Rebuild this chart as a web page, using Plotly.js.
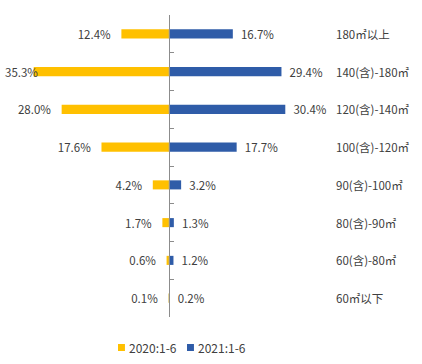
<!DOCTYPE html>
<html>
<head>
<meta charset="utf-8">
<script src="https://cdn.plot.ly/plotly-3.0.1.min.js"></script>
<style>html,body{margin:0;padding:0;background:#fff;}#chart{width:422px;height:364px;}</style>
</head>
<body>
<div id="chart"></div>
<script>
const categories = ["180㎡以上", "140(含)-180㎡", "120(含)-140㎡", "100(含)-120㎡", "90(含)-100㎡", "80(含)-90㎡", "60(含)-80㎡", "60㎡以下"];
const series2020 = [12.4, 35.3, 28.0, 17.6, 4.2, 1.7, 0.6, 0.1];
const series2021 = [16.7, 29.4, 30.4, 17.7, 3.2, 1.3, 1.2, 0.2];
const seriesNames = ["2020:1-6", "2021:1-6"];
const colors = ['#FFC000', '#2F5CA8'];

const FONT = '"Noto Sans CJK SC", "Microsoft YaHei", sans-serif';
const TXT = '#404040';
const XMIN = -44.1, XMAX = 66.1;
const fmt = v => v.toFixed(1) + '%';

// left labels that would run past the chart's left edge are clamped to the edge (as the original does)
const leftFits = series2020.map(v => v < 32);

const traces = [
  {
    type: 'bar', orientation: 'h', name: seriesNames[0], showlegend: false,
    y: categories, x: series2020.map(v => -v),
    text: series2020.map(v => fmt(v) + '\u00a0\u00a0\u00a0'),
    textposition: leftFits.map(f => f ? 'outside' : 'none'),
    cliponaxis: false, constraintext: 'none',
    textfont: {family: FONT, size: 11.5, color: TXT},
    marker: {color: colors[0]}, width: 0.24, hoverinfo: 'skip'
  },
  {
    type: 'bar', orientation: 'h', name: seriesNames[1], showlegend: false,
    y: categories, x: series2021,
    text: series2021.map(v => '\u00a0\u00a0' + fmt(v)),
    textposition: 'outside', cliponaxis: false, constraintext: 'none',
    textfont: {family: FONT, size: 11.5, color: TXT},
    marker: {color: colors[1]}, width: 0.24, hoverinfo: 'skip'
  }
];

const annotations = categories.map(c => ({
  xref: 'paper', yref: 'y', x: 0.7915, y: c, text: c,
  xanchor: 'left', yanchor: 'middle', showarrow: false,
  font: {family: FONT, size: 11.5, color: TXT}
}));
series2020.forEach((v, i) => {
  if (!leftFits[i]) {
    annotations.push({
      xref: 'paper', yref: 'y', x: 0.007, y: categories[i], text: fmt(v),
      xanchor: 'left', yanchor: 'middle', showarrow: false,
      font: {family: FONT, size: 11.5, color: TXT}
    });
  }
});

// legend (compact, like the original): small square + series name
const legendX = [0.2796, 0.4431];
const shapes = [];
seriesNames.forEach((name, i) => {
  shapes.push({
    type: 'rect', xref: 'paper', yref: 'paper',
    x0: legendX[i], x1: legendX[i] + 0.0165, y0: -0.1126, y1: -0.0894,
    fillcolor: colors[i], line: {width: 0}
  });
  annotations.push({
    xref: 'paper', yref: 'paper', x: legendX[i] + 0.022, y: -0.101, text: name,
    xanchor: 'left', yanchor: 'middle', showarrow: false,
    font: {family: FONT, size: 12, color: TXT}
  });
});

const layout = {
  width: 422, height: 364,
  margin: {l: 0, r: 0, t: 15, b: 47},
  paper_bgcolor: '#fff', plot_bgcolor: '#fff',
  barmode: 'overlay',
  showlegend: false,
  font: {family: FONT, size: 11, color: TXT},
  xaxis: {range: [XMIN, XMAX], visible: false, showgrid: false, zeroline: false, fixedrange: true},
  yaxis: {
    type: 'category', autorange: 'reversed',
    anchor: 'free', position: 169 / 422,
    showline: true, linecolor: '#8C8C8C', linewidth: 1,
    ticks: 'inside', tickson: 'boundaries', ticklen: 4, tickcolor: '#8C8C8C',
    showticklabels: false, showgrid: false, zeroline: false
  },
  shapes: shapes,
  annotations: annotations
};

Plotly.newPlot('chart', traces, layout, {staticPlot: true, displayModeBar: false});
</script>
</body>
</html>
